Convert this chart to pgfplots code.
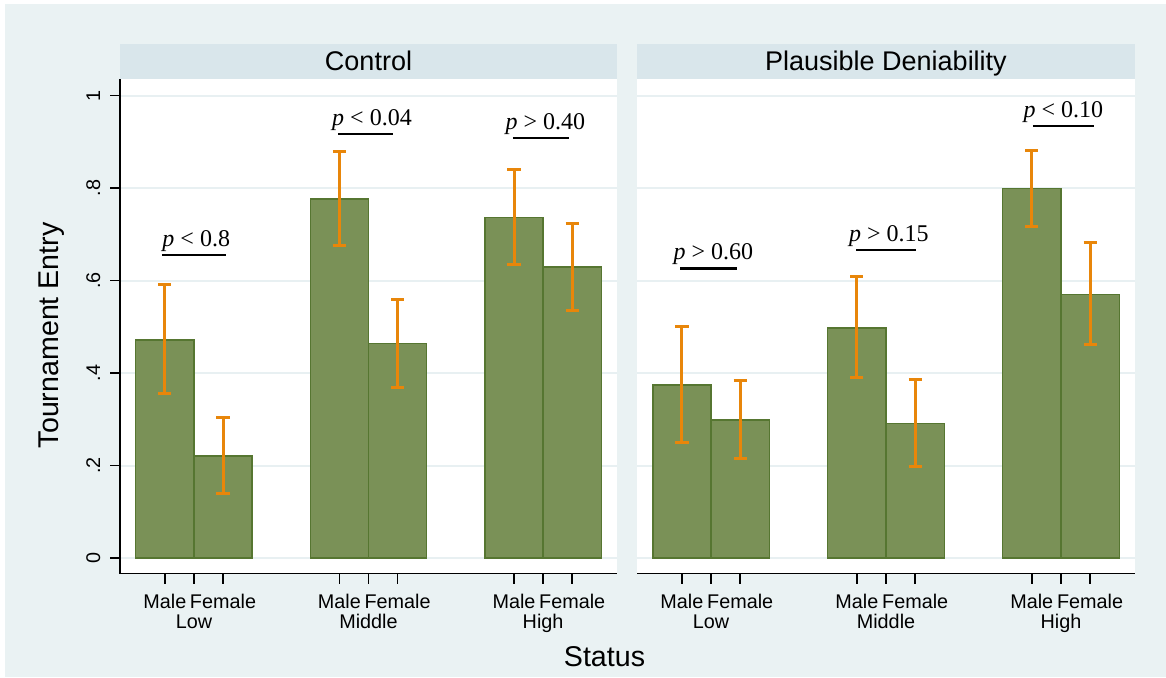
\documentclass[border=0pt]{standalone}
\usepackage{pgfplots}
\usepackage{pgfplotstable}
\pgfplotsset{compat=1.18}
\usepackage{fontspec}
\setmainfont{Liberation Sans}
\newfontfamily\serif{Liberation Serif}
\definecolor{bgc}{RGB}{234,242,243}
\definecolor{hdc}{RGB}{217,230,235}
\definecolor{gridc}{RGB}{232,240,242}
\definecolor{barc}{RGB}{122,145,87}
\definecolor{bare}{RGB}{86,118,49}
\definecolor{errc}{RGB}{232,134,10}

\pgfplotstableread{
x y ep em
-0.5 0.472 0.119 0.116
2.5 0.777 0.102 0.100
5.5 0.737 0.103 0.103
}\ctrlmale
\pgfplotstableread{
x y ep em
0.5 0.221 0.083 0.081
3.5 0.464 0.096 0.096
6.5 0.629 0.095 0.094
}\ctrlfemale
\pgfplotstableread{
x y ep em
-0.5 0.374 0.126 0.124
2.5 0.498 0.111 0.108
5.5 0.799 0.083 0.081
}\pdmale
\pgfplotstableread{
x y ep em
0.5 0.298 0.087 0.083
3.5 0.291 0.096 0.094
6.5 0.570 0.112 0.109
}\pdfemale

\newcommand\tl{\fontsize{9.9}{10}\selectfont}
\newcommand\pf{\serif\fontsize{12}{13}\selectfont}

\pgfplotsset{
  panel/.style={
    scale only axis, width=248.5pt, height=247.25pt,
    xmin=-1.27, xmax=7.27, ymin=-0.0335, ymax=1.036,
    axis background/.style={fill=white},
    axis x line*=bottom, axis y line*=left,
    axis line style={-, line width=0.8pt, black},
    tick align=outside, major tick length=5pt,
    tick style={line width=0.8pt, black},
    xtick={-0.5,0,0.5,2.5,3,3.5,5.5,6,6.5},
    xticklabels={Male,,Female,Male,,Female,Male,,Female},
    xticklabel style={font=\tl, yshift=-1.7pt},
    ytick={0,0.2,0.4,0.6,0.8,1},
    yticklabels={0,.2,.4,.6,.8,1},
    yticklabel style={font=\tl, xshift=-5pt, rotate=90, anchor=base},
    ymajorgrids, grid style={gridc, line width=1pt},
    /pgf/number format/assume math mode=true,
    clip=false,
  },
  bars/.style={ybar, bar width=1, bar shift=0pt, fill=barc, draw=bare, line width=0.75pt,
    error bars/.cd, y dir=both, y explicit,
    error bar style={errc, line width=1.5pt},
    error mark=|,
    error mark options={errc, line width=1.5pt, mark size=3.3pt}},
  pline/.style={black, line width=1.1pt, no marks, forget plot},
}

\begin{document}
\begin{tikzpicture}
\fill[white] (0,0) rectangle (583pt,-338.5pt);
\fill[bgc] (2.5pt,-2pt) rectangle (583pt,-338.5pt);
\fill[hdc] (60pt,-22pt) rectangle (308.5pt,-39.5pt);
\fill[hdc] (318.5pt,-22pt) rectangle (567.5pt,-39.5pt);
\node[anchor=base, font=\fontsize{13.5}{14}\selectfont] at (184.25pt,-35.35pt) {Control};
\node[anchor=base, font=\fontsize{13.5}{14}\selectfont] at (443pt,-35.35pt) {Plausible Deniability};

\begin{axis}[panel, at={(60pt,-286.75pt)}, anchor=south west]
\addplot[bars] table[x=x, y=y, y error plus=ep, y error minus=em] {\ctrlmale};
\addplot[bars] table[x=x, y=y, y error plus=ep, y error minus=em] {\ctrlfemale};
\addplot[pline] coordinates {(-0.55,0.655) (0.55,0.655)};
\addplot[pline] coordinates {(2.48,0.917) (3.42,0.917)};
\addplot[pline] coordinates {(5.48,0.909) (6.45,0.909)};
\node[anchor=base, font=\pf] at (axis cs:0.04,0.6736) {\textit{p} < 0.8};
\node[anchor=base, font=\pf] at (axis cs:3.06,0.9356) {\textit{p} < 0.04};
\node[anchor=base, font=\pf] at (axis cs:6.04,0.9276) {\textit{p} > 0.40};
\node[anchor=base, font=\tl, yshift=-27.25pt] at (axis cs:0,-0.0335) {Low};
\node[anchor=base, font=\tl, yshift=-27.25pt] at (axis cs:3,-0.0335) {Middle};
\node[anchor=base, font=\tl, yshift=-27.25pt] at (axis cs:6,-0.0335) {High};
\end{axis}

\begin{axis}[panel, at={(318.5pt,-286.75pt)}, anchor=south west, width=249pt,
  y axis line style={draw=none}, major y tick style={draw=none}, yticklabels={}]
\addplot[bars] table[x=x, y=y, y error plus=ep, y error minus=em] {\pdmale};
\addplot[bars] table[x=x, y=y, y error plus=ep, y error minus=em] {\pdfemale};
\addplot[pline] coordinates {(-0.53,0.626) (0.45,0.626)};
\addplot[pline] coordinates {(2.49,0.667) (3.52,0.667)};
\addplot[pline] coordinates {(5.52,0.934) (6.57,0.934)};
\node[anchor=base, font=\pf] at (axis cs:0.04,0.6446) {\textit{p} > 0.60};
\node[anchor=base, font=\pf] at (axis cs:3.05,0.6856) {\textit{p} > 0.15};
\node[anchor=base, font=\pf] at (axis cs:6.04,0.9526) {\textit{p} < 0.10};
\node[anchor=base, font=\tl, yshift=-27.25pt] at (axis cs:0,-0.0335) {Low};
\node[anchor=base, font=\tl, yshift=-27.25pt] at (axis cs:3,-0.0335) {Middle};
\node[anchor=base, font=\tl, yshift=-27.25pt] at (axis cs:6,-0.0335) {High};
\end{axis}

\node[anchor=base, font=\fontsize{14.3}{15}\selectfont] at (302.25pt,-333.35pt) {Status};
\node[rotate=90, anchor=base, font=\fontsize{14.3}{15}\selectfont] at (29.4pt,-167.65pt) {Tournament Entry};
\end{tikzpicture}
\end{document}
